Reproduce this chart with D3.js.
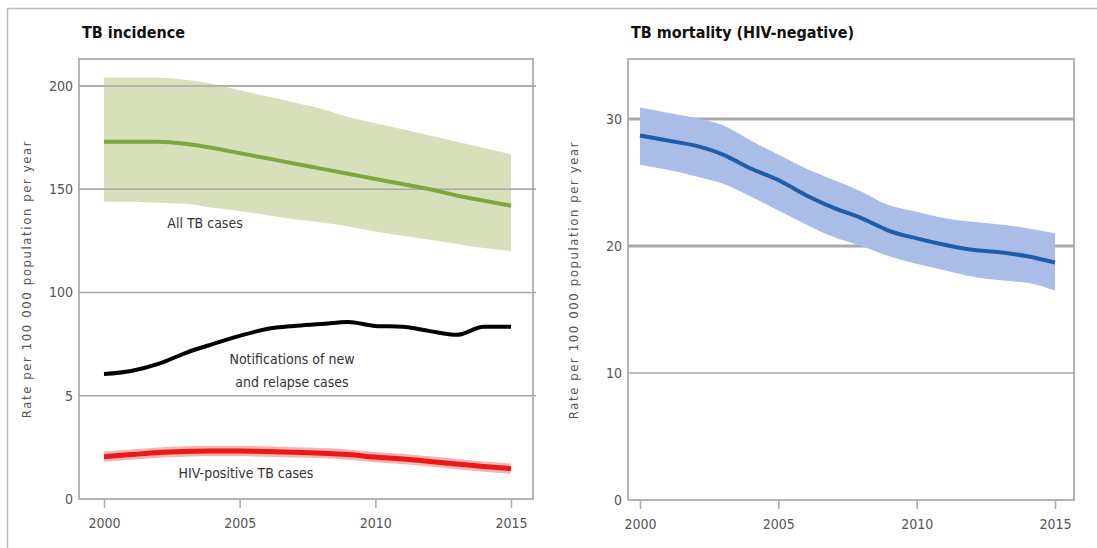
<!DOCTYPE html>
<html>
<head>
<meta charset="utf-8">
<script src="https://cdn.jsdelivr.net/npm/d3@7"></script>
<style>
  body { margin: 0; background: #fff; }
  text { font-family: "DejaVu Sans", sans-serif; font-stretch: condensed; }
</style>
</head>
<body>
<svg id="chart" width="1097" height="548"></svg>
<script>
const years = d3.range(2000, 2016);

// TB incidence, all cases (rate per 100 000)
const incBest = [173, 173, 173, 172, 170, 167.5, 165, 162.5, 160, 157.5, 155, 152.5, 150, 147, 144.5, 142];
const incHigh = [204, 204, 204, 203, 201, 198, 195, 192, 189, 185, 182, 179, 176, 173, 170, 167];
const incLow = [144, 144, 143.5, 143, 141, 139.5, 137.5, 135.5, 134, 132, 129.5, 127.5, 125.5, 123.5, 121.5, 120];
// notifications of new and relapse cases
const notif = [60.5, 62, 65.4, 70.7, 75, 79, 82.3, 83.8, 84.7, 85.7, 83.8, 83.4, 81.3, 79.5, 83.4, 83.4];
// HIV-positive TB cases
const hivBest = [20.5, 21.5, 22.5, 23, 23.2, 23.2, 23, 22.6, 22.2, 21.5, 20.3, 19.4, 18.2, 16.9, 15.7, 14.7];
const hivHigh = [23, 24, 25, 25.5, 25.7, 25.7, 25.5, 25.1, 24.7, 24, 22.8, 21.9, 20.7, 19.4, 18.2, 17.2];
const hivLow = [18, 19, 20, 20.5, 20.7, 20.7, 20.5, 20.1, 19.7, 19, 17.8, 16.9, 15.7, 14.4, 13.2, 12.2];

// TB mortality, HIV-negative
const mortBest = [28.7, 28.3, 27.9, 27.2, 26.1, 25.2, 24, 23, 22.2, 21.2, 20.6, 20.1, 19.7, 19.5, 19.2, 18.7];
const mortHigh = [30.9, 30.5, 30.1, 29.5, 28.3, 27.2, 26.1, 25.2, 24.3, 23.2, 22.7, 22.2, 21.9, 21.7, 21.4, 21];
const mortLow = [26.4, 26, 25.5, 24.9, 23.9, 22.8, 21.7, 20.7, 20, 19.2, 18.6, 18.1, 17.6, 17.3, 17.1, 16.5];

const xTicks = [2000, 2005, 2010, 2015];
const incTicks = [0, 50, 100, 150, 200];
const incTickLabels = ["0", "5", "100", "150", "200"];
const mortTicks = [0, 10, 20, 30];

const svg = d3.select("#chart");

// outer frame
svg.append("path")
  .attr("d", "M7.5,548 V8.5 H1097")
  .attr("fill", "none")
  .attr("stroke", "#bdbdbd")
  .attr("stroke-width", 1.5);

function panel(o) {
  const g = svg.append("g");
  const x = d3.scaleLinear().domain([2000, 2015]).range(o.xr);
  const y = d3.scaleLinear().domain(o.yd).range(o.yr);

  g.append("text")
    .attr("x", o.left + 3)
    .attr("y", 38)
    .attr("font-size", 16)
    .attr("font-weight", "bold")
    .attr("fill", "#111")
    .text(o.title);

  // frame
  g.append("rect")
    .attr("x", o.left)
    .attr("y", o.top)
    .attr("width", o.right - o.left)
    .attr("height", y(0) - o.top)
    .attr("fill", "none")
    .attr("stroke", "#b5b5b5")
    .attr("stroke-width", 2);

  // grid
  g.selectAll(".grid")
    .data(o.ticks.filter((t) => t > 0))
    .join("line")
    .attr("x1", o.left)
    .attr("x2", o.right + o.gridOver)
    .attr("y1", (d) => y(d))
    .attr("y2", (d) => y(d))
    .attr("stroke", "#a8a8a8")
    .attr("stroke-width", (d) => o.thick(d));

  g.selectAll(".ylab")
    .data(o.ticks)
    .join("text")
    .attr("x", o.left - 6)
    .attr("y", (d) => y(d))
    .attr("dy", "0.35em")
    .attr("text-anchor", "end")
    .attr("font-size", 14)
    .attr("fill", "#555")
    .text((d, i) => o.tickLabels[i]);

  const xAxis = d3.axisBottom(x).tickValues(xTicks).tickFormat(d3.format("d")).tickSize(8).tickPadding(10);
  const ax = g.append("g").attr("transform", `translate(0,${y(0) + 1})`).call(xAxis);
  ax.select(".domain").remove();
  ax.selectAll("line").attr("stroke", "#aaa").attr("stroke-width", 1.5);
  ax.selectAll("text").attr("font-size", 14).attr("fill", "#555")
    .attr("font-family", "DejaVu Sans, sans-serif");

  g.append("text")
    .attr("transform", `translate(${o.ylabX},${o.ylabY}) rotate(-90)`)
    .attr("text-anchor", "middle")
    .attr("font-size", 13)
    .attr("letter-spacing", 1.6)
    .attr("fill", "#555")
    .text("Rate per 100 000 population per year");

  return { g, x, y };
}

const left = panel({
  title: "TB incidence",
  left: 79, right: 533, top: 59,
  xr: [104, 511], yd: [0, 200], yr: [499, 86],
  ticks: incTicks, tickLabels: incTickLabels,
  thick: () => 1.5, gridOver: 3,
  ylabX: 31, ylabY: 279
});

const right = panel({
  title: "TB mortality (HIV-negative)",
  left: 628, right: 1074, top: 59,
  xr: [640, 1055], yd: [0, 30], yr: [500, 119],
  ticks: mortTicks, tickLabels: mortTicks.map(String),
  thick: (d) => (d >= 20 ? 3 : 1.5), gridOver: 0,
  ylabX: 578, ylabY: 280
});

function band(p, lo, hi, fill) {
  const a = d3.area()
    .x((d, i) => p.x(years[i]))
    .y0((d, i) => p.y(lo[i]))
    .y1((d, i) => p.y(hi[i]))
    .curve(d3.curveMonotoneX);
  p.g.append("path").attr("d", a(years)).attr("fill", fill);
}

function line(p, vals, color, w) {
  const l = d3.line()
    .x((d, i) => p.x(years[i]))
    .y((d) => p.y(d))
    .curve(d3.curveMonotoneX);
  p.g.append("path").attr("d", l(vals))
    .attr("fill", "none").attr("stroke", color).attr("stroke-width", w)
    .attr("stroke-linejoin", "round");
}

band(left, incLow, incHigh, "#d8dfbb");
// grid lines stay visible through the green band
left.g.selectAll(".gridTop")
  .data([150, 200])
  .join("line")
  .attr("x1", 79).attr("x2", 536)
  .attr("y1", (d) => left.y(d)).attr("y2", (d) => left.y(d))
  .attr("stroke", "#a8a8a8").attr("stroke-width", 1.5);
line(left, incBest, "#7fa63a", 4);
line(left, notif, "#000", 4);
band(left, hivLow, hivHigh, "#f7b3b0");
line(left, hivBest, "#e8191b", 5);

band(right, mortLow, mortHigh, "#aabde6");
line(right, mortBest, "#1b5fac", 4);

const labels = [
  { t: "All TB cases", x: 205, y: 228 },
  { t: "Notifications of new", x: 292, y: 364 },
  { t: "and relapse cases", x: 292, y: 387 },
  { t: "HIV-positive TB cases", x: 246, y: 478 }
];
left.g.selectAll(".lbl")
  .data(labels)
  .join("text")
  .attr("x", (d) => d.x)
  .attr("y", (d) => d.y)
  .attr("text-anchor", "middle")
  .attr("font-size", 14)
  .attr("fill", "#333")
  .text((d) => d.t);
</script>
</body>
</html>
